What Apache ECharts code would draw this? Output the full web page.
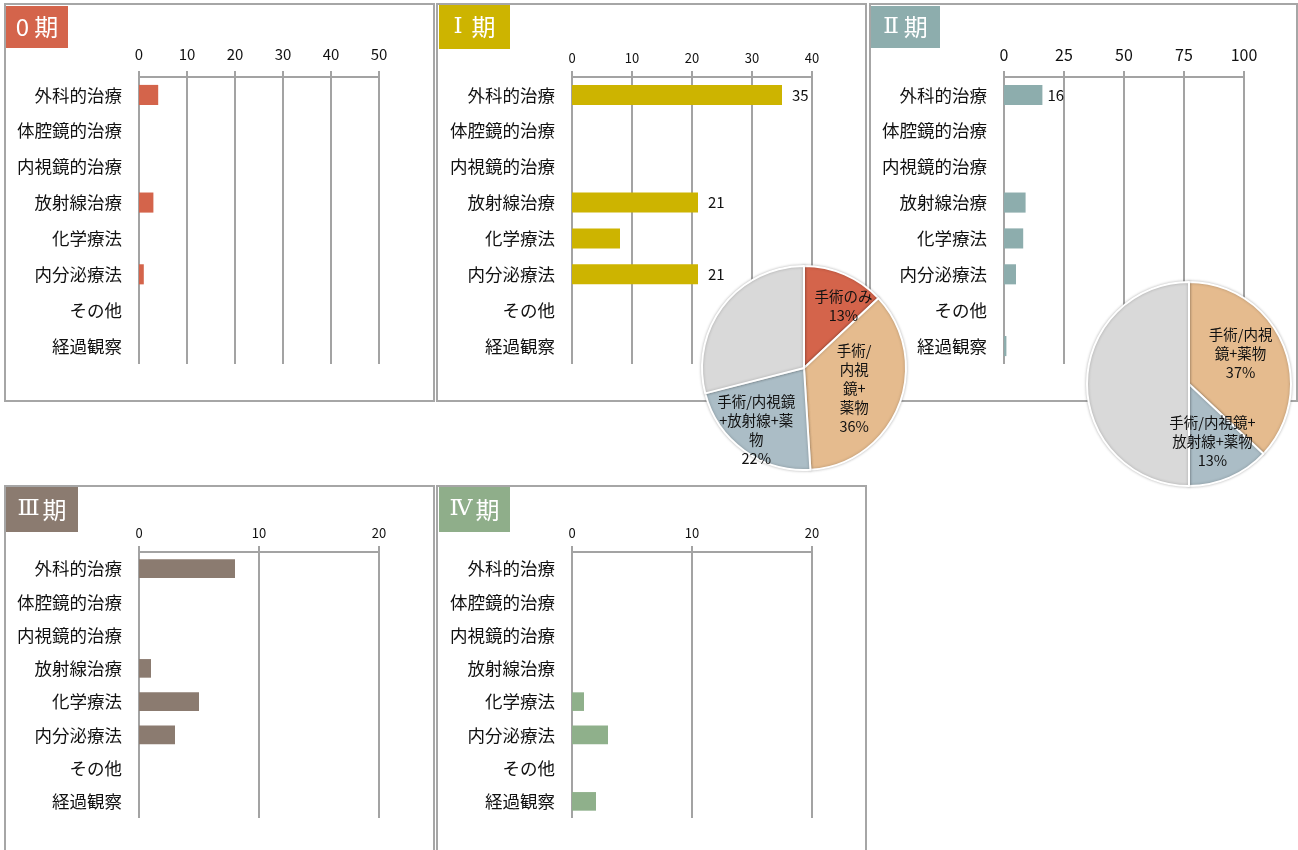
<!DOCTYPE html>
<html>
<head>
<meta charset="utf-8">
<script src="https://cdn.jsdelivr.net/npm/echarts@6/dist/echarts.min.js"></script>
<style>
html,body{margin:0;padding:0;background:#fff;}
#c{width:1298px;height:850px;}
</style>
</head>
<body>
<div id="c"></div>
<script>
// ---- data ----
const categories = ['外科的治療','体腔鏡的治療','内視鏡的治療','放射線治療','化学療法','内分泌療法','その他','経過観察'];
const stage0 = [4,0,0,3,0,1,0,0];
const stageI = [35,0,0,21,8,21,0,0];
const stageII = [16,0,0,9,8,5,0,1];
const stageIII = [8,0,0,1,5,3,0,0];
const stageIV = [0,0,0,0,1,3,0,2];
const ticks0 = [0,10,20,30,40,50];
const ticksI = [0,10,20,30,40];
const ticksII = [0,25,50,75,100];
const ticksIII = [0,10,20];
const ticksIV = [0,10,20];
const labeledI = ['外科的治療','放射線治療','内分泌療法'];
const labeledII = ['外科的治療'];
const stageNumerals = ['0 ','Ⅰ','Ⅱ','Ⅲ','Ⅳ'];
const stageSuffix = '期';
const pieINames = ['手術のみ','手術/内視鏡+薬物','手術/内視鏡+放射線+薬物','その他'];
const pieIValues = [13,36,22,29];
const pieILabelText = ['手術のみ','手術/\n内視\n鏡+\n薬物','手術/内視鏡\n+放射線+薬\n物',''];
const pieIINames = ['手術/内視鏡+薬物','手術/内視鏡+放射線+薬物','その他'];
const pieIIValues = [37,13,50];
const pieIILabelText = ['手術/内視\n鏡+薬物','手術/内視鏡+\n放射線+薬物',''];

// ---- styles / layout ----
const FONT = '"Noto Sans CJK JP", "Noto Sans", sans-serif';
const SERIF = '"DejaVu Serif", "Liberation Serif", serif';
const GRID_COLOR = '#a3a3a3';
const panels = [
  {data: stage0, ticks: ticks0, labeled: [], color:'#d4644b', badge:'#d4644b', serif:false, numPad:0,
   grid:{left:139, top:77, width:240, height:287}, tickFont:15, tickMargin:15,
   frame:[5,4,429,397], badgeRect:[6,6,62,42]},
  {data: stageI, ticks: ticksI, labeled: labeledI, color:'#cdb400', badge:'#cdb400', serif:true, numPad:9,
   grid:{left:572, top:77, width:240, height:287}, tickFont:13, tickMargin:12, labelDist:10,
   frame:[437,4,429,397], badgeRect:[439,5,71,44]},
  {data: stageII, ticks: ticksII, labeled: labeledII, color:'#8dadad', badge:'#8dadad', serif:true, numPad:5,
   grid:{left:1004, top:77, width:240, height:287}, tickFont:16, tickMargin:14, labelDist:5,
   frame:[870,4,427,397], badgeRect:[871,6,69,42]},
  {data: stageIII, ticks: ticksIII, labeled: [], color:'#8b7b70', badge:'#8b7b70', serif:true, numPad:3,
   grid:{left:139, top:552, width:240, height:266}, tickFont:13, tickMargin:12,
   frame:[5,486,429,380], badgeRect:[6,487,72,45]},
  {data: stageIV, ticks: ticksIV, labeled: [], color:'#8fb08b', badge:'#8fae8a', serif:true, numPad:3,
   grid:{left:572, top:552, width:240, height:266}, tickFont:13, tickMargin:12,
   frame:[437,486,429,380], badgeRect:[439,487,71,45]}
];

const grids = [], xAxes = [], yAxes = [], series = [], graphics = [];
panels.forEach((p, i) => {
  grids.push(Object.assign({containLabel:false}, p.grid));
  xAxes.push({
    type:'value', gridIndex:i, position:'top',
    min:p.ticks[0], max:p.ticks[p.ticks.length-1], interval:p.ticks[1]-p.ticks[0],
    axisLine:{show:true, lineStyle:{color:GRID_COLOR, width:2}},
    axisTick:{show:true, length:6, lineStyle:{color:GRID_COLOR, width:2}},
    axisLabel:{fontFamily:FONT, fontSize:p.tickFont, color:'#111', margin:p.tickMargin},
    splitLine:{show:true, lineStyle:{color:GRID_COLOR, width:2}}
  });
  yAxes.push({
    type:'category', gridIndex:i, inverse:true, data:categories,
    axisLine:{show:false}, axisTick:{show:false}, splitLine:{show:false},
    axisLabel:{fontFamily:FONT, fontSize:17.5, color:'#111', margin:17}
  });
  series.push({
    type:'bar', xAxisIndex:i, yAxisIndex:i, barWidth:'56%',
    itemStyle:{color:p.color},
    data: p.data.map((v, k) => ({
      value:v,
      label:{show: p.labeled.indexOf(categories[k]) >= 0, position:'right',
             distance:p.labelDist || 8, fontFamily:FONT, fontSize:15, color:'#111'}
    }))
  });
  const f = p.frame;
  graphics.push({type:'rect', z:0, shape:{x:f[0], y:f[1], width:f[2], height:f[3]},
    style:{fill:'#fff', stroke:'#a6a6a6', lineWidth:2}});
  const b = p.badgeRect;
  graphics.push({type:'rect', z:1, shape:{x:b[0], y:b[1], width:b[2], height:b[3]},
    style:{fill:p.badge}});
  graphics.push({type:'text', z:2, x:b[0]+b[2]/2, y:b[1]+b[3]/2,
    style:{text:'{n|' + stageNumerals[i] + '}{k|' + stageSuffix + '}',
      fill:'#fff', textAlign:'center', textVerticalAlign:'middle',
      rich:{
        n:{fontFamily: p.serif ? SERIF : FONT, fontSize: p.serif ? 23 : 24, fill:'#fff', padding:[0,p.numPad,0,0]},
        k:{fontFamily:FONT, fontSize:24, fill:'#fff'}
      }}});
});

const pieLabelStyle = {fontFamily:FONT, fontSize:14.5, lineHeight:19, color:'#111'};
const nudgeI = [[18,-12],[0,1],[-16,18],[0,0]];
const nudgeII = [[2,-9],[2,8],[0,0]];
series.push({
  type:'pie', center:[804,368], radius:102, startAngle:90, clockwise:true, z:10,
  silent:true,
  itemStyle:{borderColor:'#fff', borderWidth:2, shadowBlur:3, shadowColor:'rgba(0,0,0,0.25)'},
  label:Object.assign({show:true, position:'inside',
    formatter:(pp) => pieILabelText[pp.dataIndex] ? pieILabelText[pp.dataIndex] + '\n' + pp.value + '%' : ''}, pieLabelStyle),
  labelLine:{show:false},
  labelLayout:(pp) => ({dx:nudgeI[pp.dataIndex][0], dy:nudgeI[pp.dataIndex][1]}),
  color:['#d4644b','#e5bb8e','#abbdc6','#d9d9d9'],
  data: pieINames.map((n,k) => ({name:n, value:pieIValues[k]}))
});
series.push({
  type:'pie', center:[1189,384], radius:102, startAngle:90, clockwise:true, z:10,
  silent:true,
  itemStyle:{borderColor:'#fff', borderWidth:2, shadowBlur:3, shadowColor:'rgba(0,0,0,0.25)'},
  label:Object.assign({show:true, position:'inside',
    formatter:(pp) => pieIILabelText[pp.dataIndex] ? pieIILabelText[pp.dataIndex] + '\n' + pp.value + '%' : ''}, pieLabelStyle),
  labelLine:{show:false},
  labelLayout:(pp) => ({dx:nudgeII[pp.dataIndex][0], dy:nudgeII[pp.dataIndex][1]}),
  color:['#e5bb8e','#abbdc6','#d9d9d9'],
  data: pieIINames.map((n,k) => ({name:n, value:pieIIValues[k]}))
});

const chart = echarts.init(document.getElementById('c'), null, {renderer:'canvas'});
chart.setOption({
  animation:false,
  backgroundColor:'#fff',
  graphic:{elements:graphics},
  grid:grids, xAxis:xAxes, yAxis:yAxes, series:series
});
</script>
</body>
</html>
